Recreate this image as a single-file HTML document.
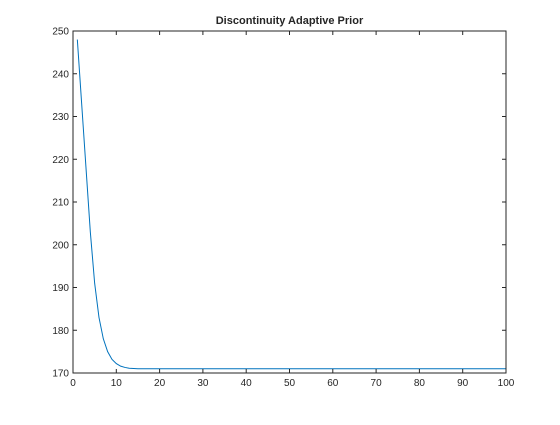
<!DOCTYPE html>
<html><head><meta charset="utf-8"><style>
body{margin:0;background:#fff}
svg text{font-family:"Liberation Sans",sans-serif;font-size:10px;fill:#262626}
</style></head><body>
<svg id="c" width="560" height="420">
<rect width="560" height="420" fill="#fff"/>
<text x="289.5" y="24" text-anchor="middle" style="font-weight:bold;font-size:11px" fill="#000">Discontinuity Adaptive Prior</text>
<g id="g"></g>
</svg>
<script>
const xTicks=[0,10,20,30,40,50,60,70,80,90,100];
const yTicks=[170,180,190,200,210,220,230,240,250];
const headValues=[248,233,218,203,191,183,178,175,173.2,172.2,171.6,171.3,171.1,171.05];
const tailValue=171;
const L=73,R=506,T=31,B=373;
const sx=v=>L+(v-0)/(100-0)*(R-L);
const sy=v=>B-(v-170)/(250-170)*(B-T);
const ns="http://www.w3.org/2000/svg";
const g=document.getElementById('g');
function mk(t,a){const e=document.createElementNS(ns,t);for(const k in a)e.setAttribute(k,a[k]);g.appendChild(e);return e;}
const xs=[],ys=[];
for(let i=1;i<=100;i++){xs.push(i);ys.push(i<=headValues.length?headValues[i-1]:tailValue);}
let d='';xs.forEach((x,i)=>{d+=(i?'L':'M')+sx(x).toFixed(2)+','+sy(ys[i]).toFixed(2);});
const line=mk('path',{d:d,fill:'none',stroke:'#0072bd','stroke-width':1});


const box=mk('rect',{x:L,y:T,width:R-L,height:B-T,fill:'none',stroke:'#262626','stroke-width':1});


xTicks.forEach(v=>{const x=sx(v);
mk('line',{x1:x,x2:x,y1:B,y2:B-4,stroke:'#262626'});mk('line',{x1:x,x2:x,y1:T,y2:T+4,stroke:'#262626'});
const t=mk('text',{x:x,y:B+13,'text-anchor':'middle'});t.textContent=v;

});
yTicks.forEach(v=>{const y=sy(v);
mk('line',{x1:L,x2:L+4,y1:y,y2:y,stroke:'#262626'});mk('line',{x1:R,x2:R-4,y1:y,y2:y,stroke:'#262626'});
const t=mk('text',{x:L-4,y:y+3.5,'text-anchor':'end'});t.textContent=v;

});
</script>
</body></html>
